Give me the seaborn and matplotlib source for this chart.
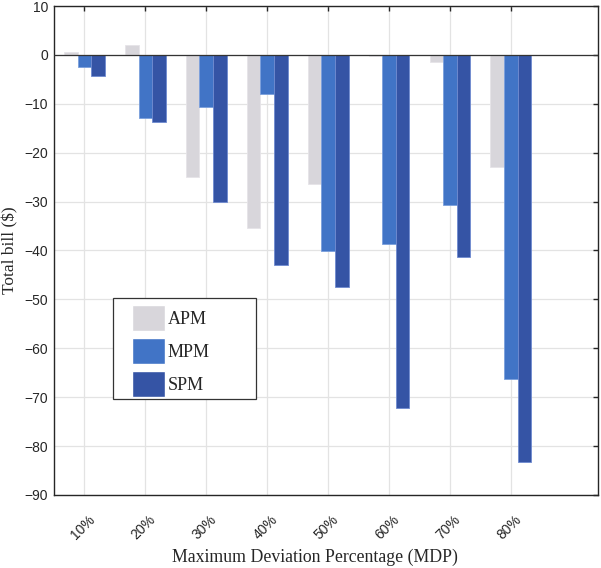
import pandas as pd
import seaborn as sns
import matplotlib.pyplot as plt
from matplotlib.patches import Rectangle
from matplotlib.transforms import ScaledTranslation

sns.set_style('white')
plt.rcParams['font.family'] = ['Liberation Sans', 'DejaVu Sans']

# values
mdp = ['10%', '20%', '30%', '40%', '50%', '60%', '70%', '80%']
apm = [0.5, 2.0, -25.0, -35.4, -26.4, -0.3, -1.4, -23.0]
mpm = [-2.4, -12.9, -10.6, -7.9, -40.1, -38.6, -30.7, -66.3]
spm = [-4.3, -13.8, -30.1, -43.0, -47.4, -72.2, -41.4, -83.2]
methods = ['APM', 'MPM', 'SPM']
colors = ['#D8D6DB', '#4174C6', '#3554A5']
edges = ['#E6E4E8', '#7A9FDC', '#6F8AD0']

data = pd.DataFrame({
    'mdp': mdp * 3,
    'bill': apm + mpm + spm,
    'method': [m for m in methods for _ in mdp],
})

fig = plt.figure(figsize=(6.01, 5.68), dpi=100)
ax = fig.add_axes([54 / 601, 1 - 495 / 568, 544 / 601, 489 / 568])

sns.barplot(data=data, x='mdp', y='bill', hue='method', hue_order=methods,
            palette=colors, saturation=1, width=0.67, ax=ax, zorder=2)

for cont, ec in zip(ax.containers, edges):
    for bar in cont:
        bar.set_edgecolor(ec)
        bar.set_linewidth(0.6)

ax.axhline(0, color='#333333', lw=0.9, zorder=3)

ax.set_xlim(-0.5, 8.43)
ax.set_ylim(-90, 10)
ax.set_yticks(range(-90, 11, 10))
ax.grid(True, color='#E3E3E3', lw=0.9, zorder=0)
ax.set_axisbelow(True)

for s in ax.spines.values():
    s.set_color('#262626')
    s.set_linewidth(1.0)

ax.tick_params(axis='both', direction='in', length=3.6, width=1, color='#262626',
               top=True, right=True, labelsize=10, labelcolor='#262626')
ax.tick_params(axis='y', pad=4.3)
ax.tick_params(axis='x', pad=16)

offset = ScaledTranslation(8 / 100, 0, fig.dpi_scale_trans)
for lab in ax.get_xticklabels():
    lab.set_rotation(45)
    lab.set_ha('right')
    lab.set_va('center')
    lab.set_rotation_mode('anchor')
    lab.set_transform(lab.get_transform() + offset)

ax.set_xlabel('Maximum Deviation Percentage (MDP)', family='Liberation Serif',
              fontsize=12.8, color='#262626')
ax.xaxis.set_label_coords(0.479, -0.11)
ax.set_ylabel('Total bill ($)', family='Liberation Serif', fontsize=12.5,
              color='#262626', labelpad=4)

# legend with its own frame box
fs = 13 * 100 / 72
ax.legend(loc='upper left', frameon=False, borderpad=0, borderaxespad=0,
          bbox_to_anchor=(131.7 / 601, 1 - 305 / 568), bbox_transform=fig.transFigure,
          prop={'family': 'Liberation Serif', 'size': 13},
          handlelength=33 / fs, handleheight=1.8, labelspacing=0.42,
          handletextpad=3 / fs)
box = Rectangle((113 / 601, 1 - 399 / 568), 143 / 601, 101.3 / 568,
                transform=fig.transFigure, facecolor='white', edgecolor='#333333',
                lw=0.9, zorder=4)
ax.add_artist(box)
ax.get_legend().set_zorder(5)

fig.savefig('out.png', dpi=100)
